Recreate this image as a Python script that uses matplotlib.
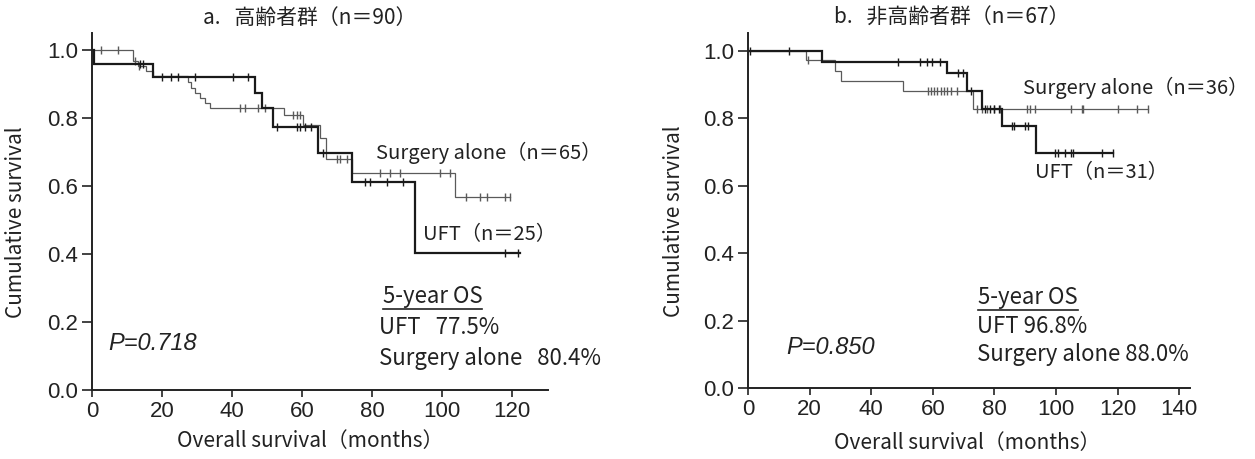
import numpy as np
import matplotlib
matplotlib.use("Agg")
import matplotlib.pyplot as plt
from matplotlib.lines import Line2D

plt.rcParams['font.family'] = ['Noto Sans CJK JP', 'DejaVu Sans']

# ---------------- data ----------------
# Panel a (elderly, n=90)
a_uft_t = [0, 0.7, 17.5, 46.6, 48.5, 51.8, 64.7, 74.2, 92.3]
a_uft_s = [1.0, 0.96, 0.92, 0.873, 0.829, 0.773, 0.696, 0.613, 0.404]
a_uft_end = 122.3
a_uft_cens = [13.7, 14.7, 20.0, 22.5, 24.5, 29.4, 40.4, 44.7, 52.8, 58.5, 59.5,
              61.0, 62.5, 66.1, 78.0, 79.4, 84.2, 88.9, 118.0, 121.8]

a_sur_t = [0, 11.6, 13.2, 15.5, 17.5, 27.5, 28.4, 29.4, 31.0, 32.4, 33.7,
           55.0, 60.4, 65.1, 67.0, 74.2, 103.7]
a_sur_s = [1.0, 0.969, 0.954, 0.938, 0.923, 0.905, 0.889, 0.874, 0.858, 0.843,
           0.829, 0.809, 0.779, 0.740, 0.678, 0.637, 0.567]
a_sur_end = 119.4
a_sur_cens = [2.6, 7.4, 12.3, 13.5, 42.3, 43.7, 47.5, 49.3, 57.5, 58.5, 59.5,
              69.9, 71.0, 72.8, 82.3, 85.1, 88.0, 99.4, 102.3, 107.0, 110.9,
              112.8, 118.0, 119.4]

# Panel b (non-elderly, n=67)
b_uft_t = [0, 23.9, 64.5, 71.0, 76.0, 82.4, 93.5]
b_uft_s = [1.0, 0.968, 0.933, 0.880, 0.829, 0.777, 0.697]
b_uft_end = 118.6
b_uft_cens = [0.6, 13.4, 48.8, 55.8, 58.0, 59.6, 62.3, 68.2, 69.9, 72.3, 77.0,
              78.5, 80.0, 81.5, 85.6, 86.5, 90.0, 91.0, 99.7, 100.5, 103.0,
              105.0, 105.5, 115.0, 118.4]

b_sur_t = [0, 18.8, 28.2, 30.1, 50.2, 73.2]
b_sur_s = [1.0, 0.972, 0.941, 0.911, 0.881, 0.829]
b_sur_end = 130.0
b_sur_cens = [19.5, 58.5, 59.5, 60.5, 61.5, 62.5, 63.5, 64.5, 66.0, 67.9, 74.5,
              76.0, 77.5, 80.0, 81.8, 90.5, 91.5, 93.2, 105.0, 108.3, 108.8,
              120.2, 126.2, 130.0]

a_title = "a.   高齢者群（n＝90）"
b_title = "b.   非高齢者群（n＝67）"
a_labels = ["Surgery alone（n＝65）", "UFT（n＝25）"]
b_labels = ["Surgery alone（n＝36）", "UFT（n＝31）"]
a_os = ["UFT   77.5%", "Surgery alone   80.4%"]
b_os = ["UFT 96.8%", "Surgery alone 88.0%"]
a_p = "P=0.718"
b_p = "P=0.850"
a_xticks = [0, 20, 40, 60, 80, 100, 120]
b_xticks = [0, 20, 40, 60, 80, 100, 120, 140]
yticks = [0.0, 0.2, 0.4, 0.6, 0.8, 1.0]

W, H = 1255, 459
fig = plt.figure(figsize=(W / 100, H / 100), dpi=100)
TC = '#222222'
NUMFONT = ['Liberation Sans', 'DejaVu Sans']

def px_axes(l, r, b, t):
    return fig.add_axes([l / W, 1 - b / H, (r - l) / W, (b - t) / H])

def km(ax, t, s, end, cens, lw, color):
    tt = list(t) + [end]
    ss = list(s) + [s[-1]]
    ax.step(tt, ss, where='post', color=color, lw=lw, solid_joinstyle='miter')
    idx = np.searchsorted(np.array(t), np.array(cens), side='right') - 1
    cy = np.array(s)[idx]
    ax.plot(cens, cy, ls='none', marker='|', ms=6, mew=1.0, color=color)

def style(ax, xmax, xticks, ymax):
    ax.set_xlim(0, xmax)
    ax.set_ylim(0, ymax)
    for sp in ['top', 'right']:
        ax.spines[sp].set_visible(False)
    for sp in ['left', 'bottom']:
        ax.spines[sp].set_linewidth(1.4)
        ax.spines[sp].set_color(TC)
    ax.set_xticks(xticks)
    ax.set_yticks(yticks)
    ax.set_xticklabels([str(v) for v in xticks], family=NUMFONT)
    ax.set_yticklabels([f"{v:.1f}" for v in yticks], family=NUMFONT)
    ax.tick_params(direction='out', width=1.2, labelsize=16, colors=TC)
    ax.tick_params(axis='x', length=5, pad=3)
    ax.tick_params(axis='y', length=7, pad=3)

LBL = 14.5
OSF = 16
# ---------- panel a ----------
axa = px_axes(92, 548, 390, 33)
km(axa, a_sur_t, a_sur_s, a_sur_end, a_sur_cens, 0.9, '#5a5a5a')
km(axa, a_uft_t, a_uft_s, a_uft_end, a_uft_cens, 1.6, '#1a1a1a')
style(axa, 130.3, a_xticks, 1.05)
axa.set_ylabel("Cumulative survival", fontsize=15, color=TC)
axa.yaxis.set_label_coords(-0.143, 0.47)
axa.set_xlabel("Overall survival（months）", fontsize=15, color=TC)
axa.xaxis.set_label_coords(0.478, -0.112)
axa.text(81.1, 0.697, a_labels[0], fontsize=LBL, va='center', ha='left', color=TC)
axa.text(94.6, 0.456, a_labels[1], fontsize=LBL, va='center', ha='left', color=TC)
ta = axa.text(83.1, 0.274, "5-year OS", fontsize=OSF, va='center', ha='left', color=TC)
axa.text(82.0, 0.185, a_os[0], fontsize=OSF, va='center', ha='left', color=TC)
axa.text(82.0, 0.094, a_os[1], fontsize=OSF, va='center', ha='left', color=TC)
axa.text(4.6, 0.138, a_p, fontsize=17, va='center', ha='left', style='italic',
         family=NUMFONT, color=TC)

# ---------- panel b ----------
axb = px_axes(748, 1190, 388, 33)
km(axb, b_sur_t, b_sur_s, b_sur_end, b_sur_cens, 0.9, '#5a5a5a')
km(axb, b_uft_t, b_uft_s, b_uft_end, b_uft_cens, 1.6, '#1a1a1a')
style(axb, 143.5, b_xticks, 1.053)
axb.set_ylabel("Cumulative survival", fontsize=15, color=TC)
axb.yaxis.set_label_coords(-0.143, 0.47)
axb.set_xlabel("Overall survival（months）", fontsize=15, color=TC)
axb.xaxis.set_label_coords(0.495, -0.125)
axb.text(89.3, 0.89, b_labels[0], fontsize=LBL, va='center', ha='left', color=TC)
axb.text(93.2, 0.638, b_labels[1], fontsize=LBL, va='center', ha='left', color=TC)
tb = axb.text(74.7, 0.269, "5-year OS", fontsize=OSF, va='center', ha='left', color=TC)
axb.text(74.4, 0.183, b_os[0], fontsize=OSF, va='center', ha='left', color=TC)
axb.text(74.4, 0.100, b_os[1], fontsize=OSF, va='center', ha='left', color=TC)
axb.text(12.3, 0.121, b_p, fontsize=17, va='center', ha='left', style='italic',
         family=NUMFONT, color=TC)

# titles
fig.text(310 / W, 1 - 18 / H, a_title, fontsize=15, ha='center', va='center', color=TC)
fig.text(952 / W, 1 - 18 / H, b_title, fontsize=15, ha='center', va='center', color=TC)

# underline under "5-year OS"
fig.canvas.draw()
r = fig.canvas.get_renderer()
for t in (ta, tb):
    bb = t.get_window_extent(r)
    y = bb.y0 - 1
    fig.add_artist(Line2D([bb.x0 / W, bb.x1 / W], [y / H, y / H],
                          transform=fig.transFigure, color=TC, lw=1.2))

fig.savefig("out.png", dpi=100)
